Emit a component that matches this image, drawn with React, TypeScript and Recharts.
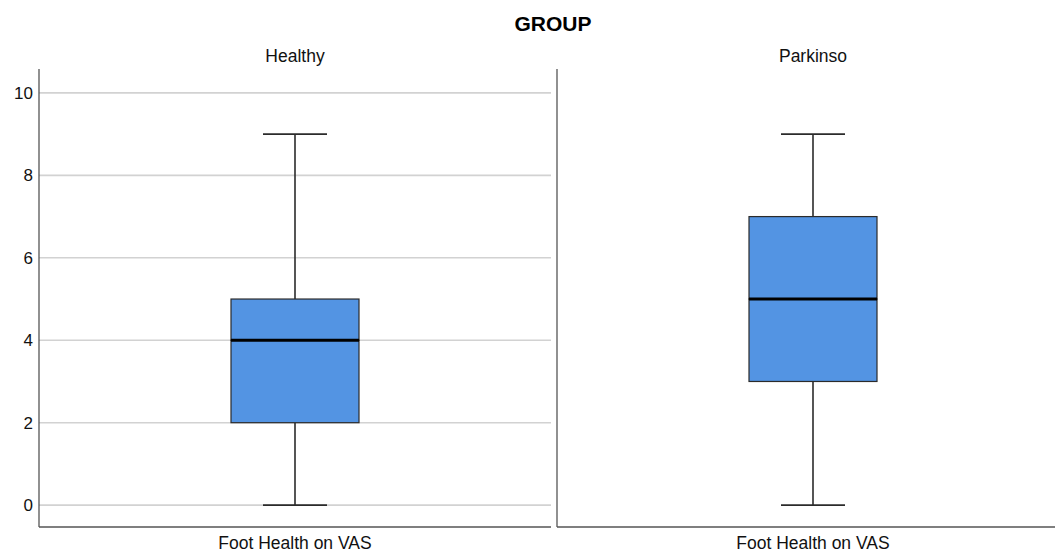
import { ComposedChart, Bar, XAxis, YAxis, CartesianGrid } from "recharts";

const groups = ["Healthy", "Parkinso"];
const measure = "Foot Health on VAS";
const minima = [0, 0];
const lowerQuartiles = [2, 3];
const medians = [4, 5];
const upperQuartiles = [5, 7];
const maxima = [9, 9];
const yTicks = [0, 2, 4, 6, 8, 10];

const FONT = '"Liberation Sans", Arial, sans-serif';
const BOX_FILL = "#5394e3";
const LINE = "#2b2b2b";
const AXIS = "#555555";
const GRID = "#d2d2d2";

const rows = groups.map((g, i) => [
  {
    group: g,
    measure,
    base: minima[i],
    lowWhisker: lowerQuartiles[i] - minima[i],
    lowBox: medians[i] - lowerQuartiles[i],
    highBox: upperQuartiles[i] - medians[i],
    highWhisker: maxima[i] - upperQuartiles[i],
  },
]);

const Empty = () => null;

const LowWhisker = (p: any) => {
  const cx = p.x + p.width / 2;
  const capHalf = p.width / 4;
  return (
    <g>
      <line x1={cx} x2={cx} y1={p.y} y2={p.y + p.height} stroke={LINE} strokeWidth={1.6} />
      <line x1={cx - capHalf} x2={cx + capHalf} y1={p.y + p.height} y2={p.y + p.height} stroke={LINE} strokeWidth={1.6} />
    </g>
  );
};

const HighWhisker = (p: any) => {
  const cx = p.x + p.width / 2;
  const capHalf = p.width / 4;
  return (
    <g>
      <line x1={cx} x2={cx} y1={p.y} y2={p.y + p.height} stroke={LINE} strokeWidth={1.6} />
      <line x1={cx - capHalf} x2={cx + capHalf} y1={p.y} y2={p.y} stroke={LINE} strokeWidth={1.6} />
    </g>
  );
};

const LowBox = (p: any) => (
  <rect x={p.x} y={p.y} width={p.width} height={p.height} fill={BOX_FILL} stroke={LINE} strokeWidth={1.2} />
);

const HighBox = (p: any) => (
  <g>
    <rect x={p.x} y={p.y} width={p.width} height={p.height} fill={BOX_FILL} stroke={LINE} strokeWidth={1.2} />
    <line x1={p.x} x2={p.x + p.width} y1={p.y + p.height} y2={p.y + p.height} stroke="#000" strokeWidth={3} />
  </g>
);

function Panel({ data, left, width, showTicks }: { data: any[]; left: number; width: number; showTicks: boolean }) {
  return (
    <div style={{ position: "absolute", left, top: 0 }}>
      <ComposedChart width={width} height={553} data={data} margin={{ top: 39, right: 0, bottom: 0, left: 0 }} barCategoryGap={0}>
        <CartesianGrid horizontal vertical={false} syncWithTicks stroke={GRID} strokeWidth={1.6} />
        <XAxis
          xAxisId="top"
          orientation="top"
          dataKey="group"
          height={30}
          axisLine={false}
          tickLine={false}
          tickMargin={1}
          tick={{ fill: "#111", fontSize: 17.5, fontFamily: FONT }}
        />
        <XAxis
          dataKey="measure"
          height={26}
          axisLine={{ stroke: AXIS, strokeWidth: 1.3 }}
          tickLine={false}
          tickMargin={4}
          tick={{ fill: "#111", fontSize: 17.5, fontFamily: FONT }}
        />
        <YAxis
          type="number"
          domain={[-0.53, 10.58]}
          allowDataOverflow
          ticks={yTicks}
          width={showTicks ? 39 : 1}
          axisLine={{ stroke: AXIS, strokeWidth: 1.3 }}
          tickLine={false}
          tickMargin={0}
          tick={showTicks ? { fill: "#111", fontSize: 17, fontFamily: FONT } : false}
        />
        <Bar dataKey="base" stackId="box" barSize={128} shape={Empty} isAnimationActive={false} />
        <Bar dataKey="lowWhisker" stackId="box" barSize={128} shape={LowWhisker} isAnimationActive={false} />
        <Bar dataKey="lowBox" stackId="box" barSize={128} shape={LowBox} isAnimationActive={false} />
        <Bar dataKey="highBox" stackId="box" barSize={128} shape={HighBox} isAnimationActive={false} />
        <Bar dataKey="highWhisker" stackId="box" barSize={128} shape={HighWhisker} isAnimationActive={false} />
      </ComposedChart>
    </div>
  );
}

export default function App() {
  return (
    <div
      style={{
        position: "absolute",
        left: 0,
        top: 0,
        width: 1055,
        height: 553,
        overflow: "hidden",
        background: "#fff",
        fontFamily: FONT,
      }}
    >
      <svg width={1055} height={40} style={{ position: "absolute", left: 0, top: 0 }}>
        <text x={553} y={31} textAnchor="middle" fontSize={21} fontWeight="bold" fontFamily={FONT} fill="#000">
          GROUP
        </text>
      </svg>
      <Panel data={rows[0]} left={0} width={551} showTicks />
      <Panel data={rows[1]} left={556} width={513} showTicks={false} />
    </div>
  );
}
